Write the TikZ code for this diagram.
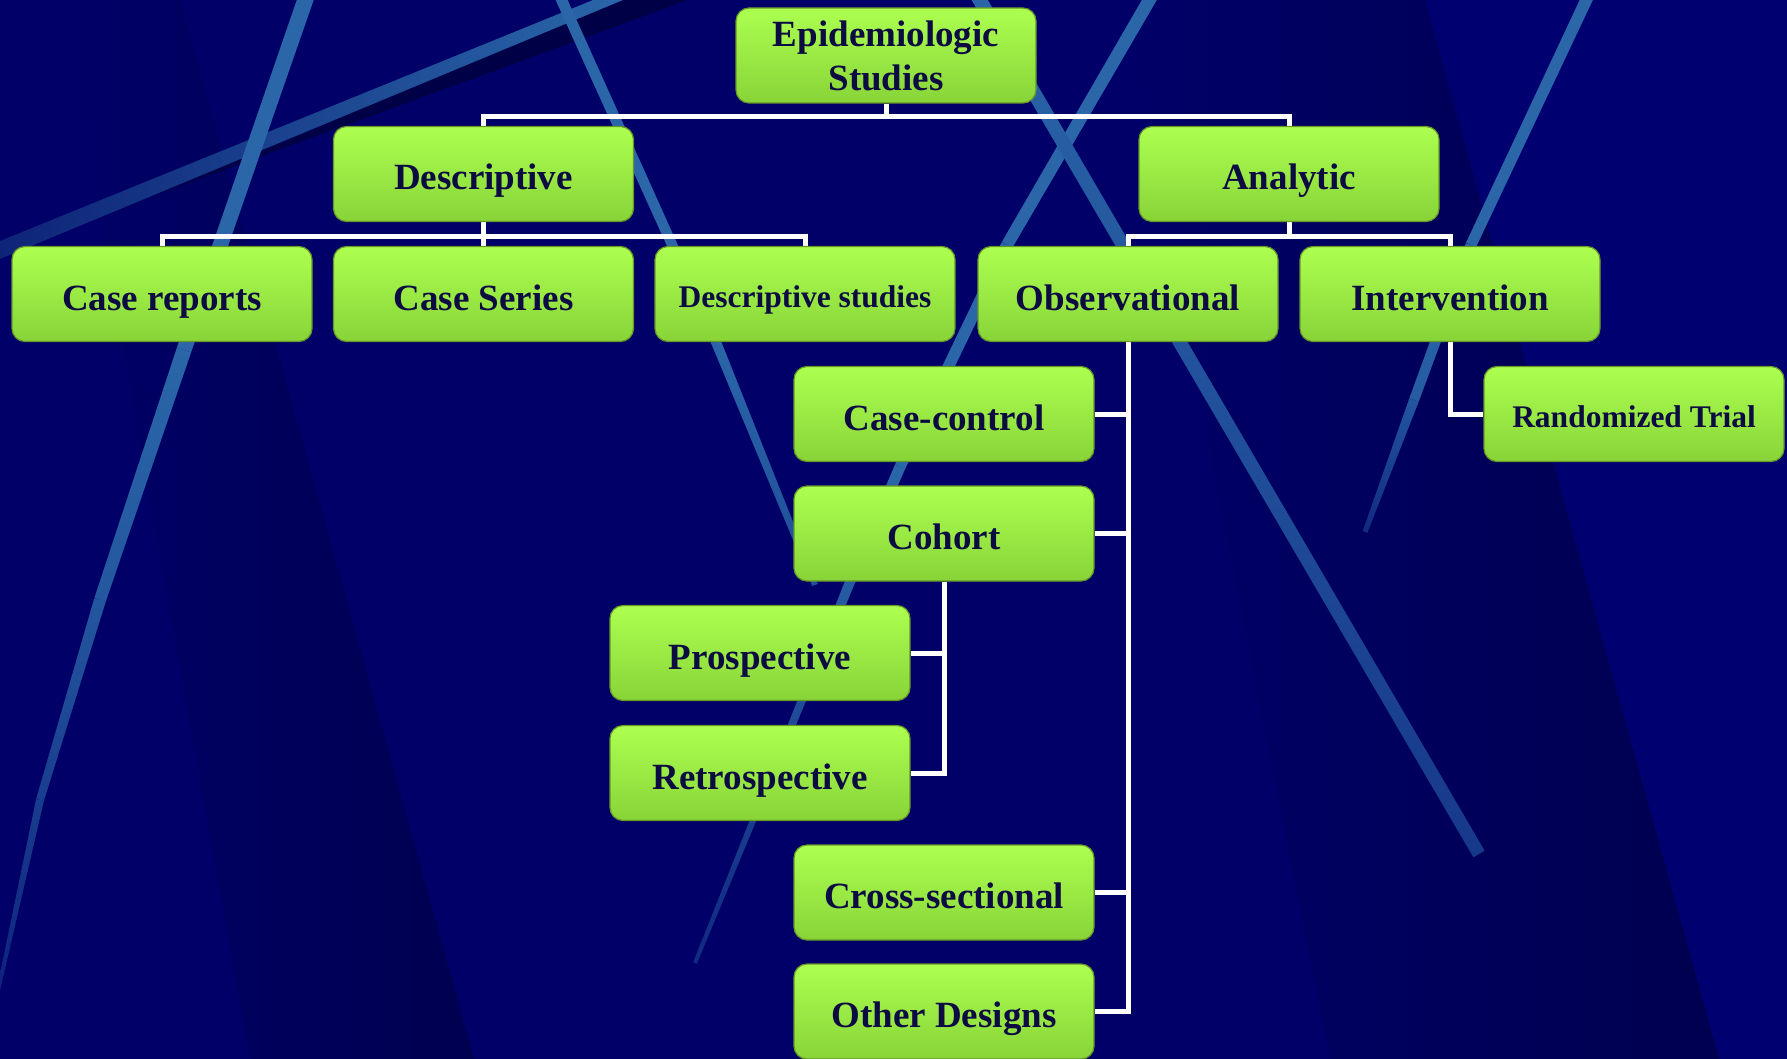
\documentclass[tikz,border=0pt]{standalone}
\usepackage{fontspec}
\setmainfont{Liberation Serif}
\usetikzlibrary{calc}
\pgfdeclarelayer{backdrop}
\pgfsetlayers{backdrop,main}

\definecolor{bgnavy}{RGB}{0,0,104}
\definecolor{bglight}{RGB}{0,0,112}
\definecolor{bgdark}{RGB}{0,0,80}
\definecolor{bgshadow}{RGB}{0,0,70}
\definecolor{streak}{RGB}{42,102,168}
\definecolor{streakdim}{RGB}{14,36,120}
\definecolor{boxtop}{RGB}{172,255,80}
\definecolor{boxbot}{RGB}{136,212,56}
\definecolor{boxedge}{RGB}{104,150,40}
\definecolor{ink}{RGB}{12,12,66}

% a straight band from #1 to #2 with half widths #3 and #4
\newcommand\streakseg[5]{%
  \path[#5] ($(#1)!#3!90:(#2)$) -- ($(#1)!#3!-90:(#2)$)
    -- ($(#2)!#4!90:(#1)$) -- ($(#2)!#4!-90:(#1)$) -- cycle;}

\tikzset{
  box/.style={rectangle, rounded corners=13pt, minimum width=300pt,
    minimum height=95pt, inner sep=0pt, top color=boxtop,
    bottom color=boxbot, draw=boxedge, line width=1.2pt, text=ink,
    align=center, font=\fontsize{37}{44}\bfseries\selectfont},
  oneline/.style={text height=40pt, text depth=8pt},
  smalltext/.style={font=\fontsize{31.5}{38}\bfseries\selectfont,
    text height=34pt, text depth=8pt},
  link/.style={draw=white, line width=5pt},
}

\begin{document}
\begin{tikzpicture}[x=1pt,y=-1pt]
\useasboundingbox (0,0) rectangle (1787,1059);

% study-type boxes
\node[box] (epi) at (886,55.5) {Epidemiologic\\Studies};
\node[box,oneline] (desc) at (483.5,174) {Descriptive};
\node[box,oneline] (anal) at (1289,174) {Analytic};
\node[box,oneline] (caserep) at (162,294) {Case reports};
\node[box,oneline] (caseser) at (483.5,294) {Case Series};
\node[box,smalltext] (descst) at (805,294) {Descriptive studies};
\node[box,oneline] (obs) at (1128,294) {Observational};
\node[box,oneline] (interv) at (1450,294) {Intervention};
\node[box,oneline] (cc) at (944,414) {Case-control};
\node[box,smalltext] (rand) at (1634,414) {Randomized Trial};
\node[box,oneline] (cohort) at (944,533.5) {Cohort};
\node[box,oneline] (prosp) at (760,653) {Prospective};
\node[box,oneline] (retro) at (760,773) {Retrospective};
\node[box,oneline] (cross) at (944,892.5) {Cross-sectional};
\node[box,oneline] (other) at (944,1011.5) {Other Designs};

\begin{pgfonlayer}{backdrop}
  \begin{scope}
    \clip (0,0) rectangle (1787,1059);
    % navy backdrop with darker facets
    \fill[bgnavy] (0,0) rectangle (1787,1059);
    \fill[bglight] (1425,0) -- (1787,0) -- (1787,1059) -- (1719,1059) -- cycle;
    \shade[left color=bgnavy, right color=bgdark]
      (60,0) -- (180,0) -- (474,1059) -- (250,1059) -- cycle;
    \shade[left color=bgnavy, right color=bgdark]
      (1120,0) -- (1425,0) -- (1719,1059) -- (1330,1059) -- cycle;
    % broad streak with its shadow
    \fill[bgshadow] (623,0) -- (688,0) -- (150,197) -- cycle;
    \shade[left color=streakdim, right color=streak]
      (0,241) -- (593,0) -- (623,0) -- (0,259) -- cycle;
    % thin streaks
    \streakseg{308,-8}{184,350}{8pt}{7.5pt}{fill=streak}
    \streakseg{184,350}{100,600}{7.5pt}{6pt}{top color=streak, bottom color=streak!85!bgnavy}
    \streakseg{100,600}{40,800}{6pt}{4pt}{top color=streak!85!bgnavy, bottom color=streak!60!bgnavy}
    \streakseg{40,800}{-6,1010}{4pt}{1.5pt}{top color=streak!60!bgnavy, bottom color=streak!30!bgnavy}
    \streakseg{558,-8}{716,342}{5.5pt}{5pt}{fill=streak}
    \streakseg{716,342}{815,585}{5pt}{3pt}{top color=streak, bottom color=streak!75!bgnavy}
    \streakseg{1154,-8}{1007,245}{6.5pt}{6pt}{fill=streak}
    \streakseg{1007,245}{900,467}{6pt}{5.5pt}{fill=streak}
    \streakseg{900,467}{850,582}{5.5pt}{5pt}{top color=streak, bottom color=streak!90!bgnavy}
    \streakseg{850,582}{695,963}{5pt}{2pt}{top color=streak!90!bgnavy, bottom color=streak!40!bgnavy}
    \streakseg{975,-8}{1479,854}{7pt}{6.5pt}{top color=streak, bottom color=streak!55!bgnavy}
    \streakseg{1590,-8}{1471,245}{6pt}{5.5pt}{fill=streak}
    \streakseg{1471,245}{1414,400}{5.5pt}{5pt}{top color=streak, bottom color=streak!90!bgnavy}
    \streakseg{1414,400}{1365,532}{5pt}{2.5pt}{top color=streak!85!bgnavy, bottom color=streak!40!bgnavy}
  \end{scope}

  % tree connectors
  \draw[link] (epi.south) -- ++(0,12.5) -| (desc.north);
  \draw[link] (epi.south) -- ++(0,12.5) -| (anal.north);
  \draw[link] (desc.south) -- ++(0,14) -| (caserep.north);
  \draw[link] (desc.south) -- (caseser.north);
  \draw[link] (desc.south) -- ++(0,14) -| (descst.north);
  \draw[link] (anal.south) -- ++(0,14) -| (obs.north);
  \draw[link] (anal.south) -- ++(0,14) -| (interv.north);
  \draw[link] (obs.south) |- (cc.east);
  \draw[link] (obs.south) |- (cohort.east);
  \draw[link] (obs.south) |- (cross.east);
  \draw[link] (obs.south) |- (other.east);
  \draw[link] (interv.south) |- (rand.west);
  \draw[link] (cohort.south) |- (prosp.east);
  \draw[link] (cohort.south) |- (retro.east);
\end{pgfonlayer}
\end{tikzpicture}
\end{document}
